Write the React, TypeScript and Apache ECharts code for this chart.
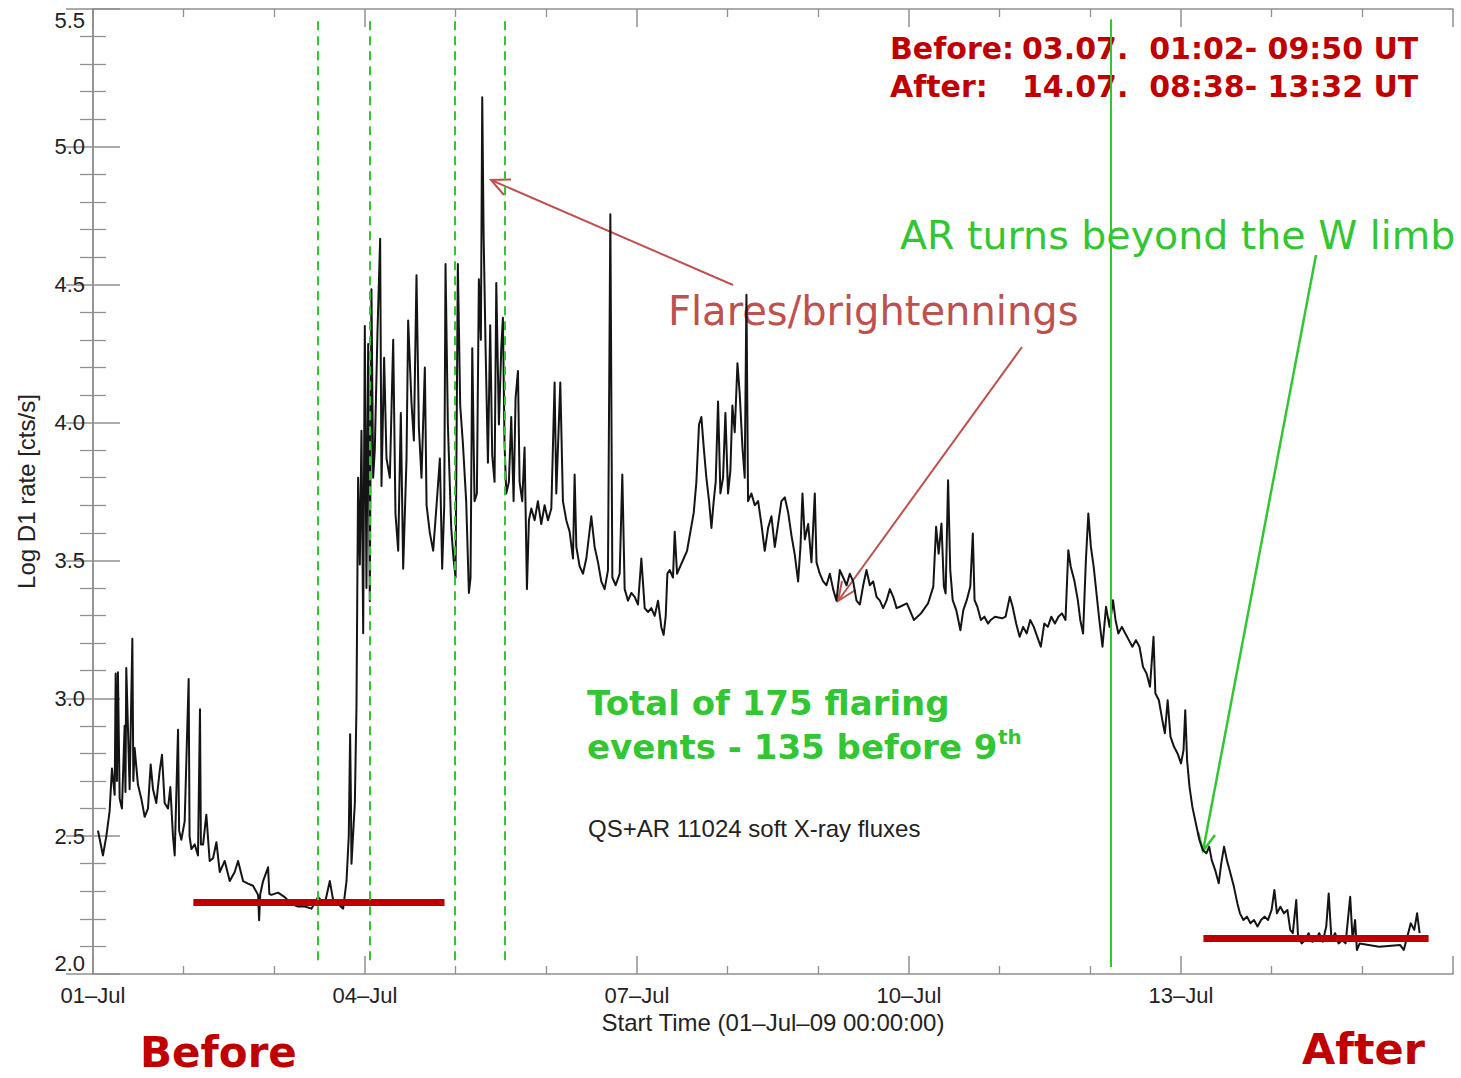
import React, { useEffect, useRef } from "react";
import * as echarts from "echarts";

// Time axis runs in days since 01-Jul-09 00:00 UT; values are log10 of the D1 count rate.
const xTickLabels = ["01–Jul", "04–Jul", "07–Jul", "10–Jul", "13–Jul"];

// Light curve, 01–04 July: quiet decay, then the onset of AR 11024 activity.
const fluxJul01to04: [number, number][] = [
  [0.055, 2.52], [0.11, 2.43], [0.147, 2.5], [0.183, 2.59], [0.209, 2.745], [0.239, 2.65],
  [0.25, 3.09], [0.264, 2.7], [0.275, 3.094], [0.294, 2.636], [0.319, 2.6], [0.349, 2.9],
  [0.358, 2.66], [0.367, 3.11], [0.404, 2.67], [0.434, 3.216], [0.445, 2.7], [0.459, 2.82],
  [0.496, 2.686], [0.533, 2.636], [0.57, 2.57], [0.606, 2.6], [0.636, 2.76], [0.662, 2.67],
  [0.698, 2.62], [0.735, 2.736], [0.761, 2.795], [0.79, 2.62], [0.827, 2.6], [0.853, 2.678],
  [0.882, 2.5], [0.901, 2.43], [0.938, 2.886], [0.95, 2.52], [0.974, 2.487], [1.011, 2.553],
  [1.055, 3.07], [1.065, 2.5], [1.085, 2.453], [1.122, 2.47], [1.158, 2.43], [1.18, 2.96],
  [1.19, 2.47], [1.214, 2.47], [1.25, 2.578], [1.287, 2.41], [1.324, 2.42], [1.361, 2.478],
  [1.398, 2.37], [1.453, 2.41], [1.508, 2.337], [1.563, 2.37], [1.6, 2.41], [1.655, 2.337],
  [1.71, 2.328], [1.765, 2.32], [1.821, 2.287], [1.832, 2.195], [1.845, 2.29], [1.876, 2.337],
  [1.931, 2.387], [1.945, 2.29], [1.968, 2.287], [2.041, 2.295], [2.115, 2.279], [2.189, 2.254],
  [2.262, 2.245], [2.336, 2.245], [2.409, 2.237], [2.483, 2.279], [2.556, 2.254], [2.612, 2.337],
  [2.648, 2.27], [2.704, 2.254], [2.759, 2.237], [2.796, 2.337], [2.821, 2.5], [2.836, 2.87],
  [2.845, 2.62], [2.851, 2.4], [2.888, 2.62], [2.906, 2.97], [2.924, 3.8], [2.943, 3.485],
  [2.961, 3.97], [2.98, 3.236], [2.998, 4.35], [3.016, 3.4], [3.035, 4.285], [3.053, 3.352],
  [3.071, 4.484], [3.09, 3.8], [3.108, 3.9], [3.138, 4.334], [3.167, 4.667], [3.182, 3.77],
  [3.211, 4.235], [3.237, 3.87], [3.274, 3.8], [3.311, 4.3], [3.336, 3.67], [3.366, 3.535],
  [3.395, 4.035], [3.421, 3.47], [3.458, 3.87], [3.476, 4.37], [3.513, 4.07], [3.539, 3.935],
  [3.568, 4.534], [3.594, 3.985], [3.623, 3.8], [3.66, 4.2], [3.679, 3.7], [3.715, 3.6],
  [3.752, 3.535], [3.789, 3.7], [3.826, 3.87], [3.851, 3.47], [3.874, 3.7],
];

// Light curve, 04–09 July: the flaring period and the slow decline.
const fluxJul04to09: [number, number][] = [
  [3.888, 4.575], [3.914, 3.993], [3.951, 3.618], [3.976, 3.507], [3.999, 3.438], [4.024, 4.575],
  [4.05, 4.062], [4.08, 3.923], [4.116, 3.715], [4.146, 3.382], [4.164, 3.438], [4.183, 4.27],
  [4.208, 3.715], [4.234, 3.743], [4.256, 4.52], [4.278, 4.3], [4.293, 5.18], [4.308, 4.687],
  [4.33, 4.27], [4.356, 3.854], [4.381, 4.353], [4.403, 3.882], [4.429, 3.785], [4.448, 4.506],
  [4.477, 3.993], [4.503, 4.27], [4.521, 4.38], [4.539, 3.923], [4.558, 3.743], [4.587, 3.785],
  [4.613, 4.02], [4.639, 3.715], [4.661, 4.09], [4.687, 4.187], [4.705, 3.785], [4.734, 3.715],
  [4.76, 3.91], [4.786, 3.396], [4.808, 3.646], [4.834, 3.688], [4.871, 3.646], [4.907, 3.715],
  [4.944, 3.632], [4.981, 3.7], [5.018, 3.646], [5.055, 3.688], [5.091, 4.145], [5.11, 3.743],
  [5.154, 4.145], [5.183, 3.715], [5.22, 3.646], [5.257, 3.604], [5.294, 3.507], [5.312, 3.812],
  [5.331, 3.549], [5.367, 3.479], [5.404, 3.452], [5.441, 3.507], [5.496, 3.66], [5.533, 3.549],
  [5.57, 3.493], [5.606, 3.424], [5.643, 3.396], [5.68, 3.465], [5.706, 4.756], [5.728, 3.438],
  [5.765, 3.41], [5.809, 3.452], [5.838, 3.812], [5.864, 3.396], [5.901, 3.354], [5.938, 3.382],
  [5.974, 3.368], [6.011, 3.34], [6.048, 3.507], [6.085, 3.327], [6.122, 3.313], [6.158, 3.327],
  [6.195, 3.299], [6.232, 3.354], [6.269, 3.257], [6.294, 3.23], [6.317, 3.299], [6.335, 3.452],
  [6.361, 3.465], [6.397, 3.438], [6.416, 3.604], [6.442, 3.452], [6.478, 3.479], [6.515, 3.507],
  [6.552, 3.535], [6.589, 3.604], [6.626, 3.674], [6.655, 3.785], [6.684, 3.993], [6.71, 4.02],
  [6.736, 3.91], [6.765, 3.8], [6.795, 3.715], [6.821, 3.618], [6.846, 3.715], [6.868, 3.785],
  [6.894, 4.076], [6.92, 3.743], [6.949, 3.8], [6.975, 4.035], [7.004, 3.743], [7.03, 3.826],
  [7.052, 4.062], [7.078, 3.965], [7.108, 4.215], [7.133, 4.104], [7.163, 3.91], [7.188, 3.8],
  [7.207, 4.464], [7.225, 3.715], [7.262, 3.743], [7.299, 3.7], [7.336, 3.715], [7.372, 3.632],
  [7.409, 3.535], [7.446, 3.618], [7.483, 3.66], [7.52, 3.549], [7.556, 3.632], [7.593, 3.715],
  [7.63, 3.729], [7.667, 3.674], [7.704, 3.59], [7.74, 3.521], [7.777, 3.424], [7.803, 3.549],
  [7.825, 3.743], [7.851, 3.576], [7.888, 3.632], [7.924, 3.493], [7.961, 3.743], [7.98, 3.493],
  [8.016, 3.452], [8.053, 3.424], [8.09, 3.41], [8.127, 3.452], [8.163, 3.396], [8.2, 3.354],
  [8.237, 3.465], [8.274, 3.438], [8.311, 3.41], [8.347, 3.452], [8.384, 3.424], [8.421, 3.354],
  [8.458, 3.34], [8.495, 3.41], [8.531, 3.465], [8.568, 3.41], [8.605, 3.424], [8.642, 3.368],
  [8.679, 3.354], [8.715, 3.327], [8.752, 3.354], [8.789, 3.396], [8.826, 3.368], [8.863, 3.327],
];

// Light curve, 09–15 July: plateau, then the drop as the region rotates off the disc.
const fluxJul09to15: [number, number][] = [
  [8.899, 3.332], [8.977, 3.344], [9.054, 3.284], [9.132, 3.308], [9.21, 3.344], [9.268, 3.405],
  [9.299, 3.622], [9.327, 3.525], [9.358, 3.634], [9.385, 3.405], [9.404, 3.38], [9.431, 3.791],
  [9.455, 3.465], [9.482, 3.356], [9.521, 3.32], [9.567, 3.247], [9.599, 3.32], [9.637, 3.356],
  [9.676, 3.405], [9.704, 3.598], [9.723, 3.356], [9.754, 3.332], [9.793, 3.284], [9.832, 3.296],
  [9.871, 3.271], [9.902, 3.284], [9.948, 3.296], [10.026, 3.29], [10.065, 3.296], [10.112, 3.368],
  [10.143, 3.332], [10.182, 3.271], [10.22, 3.223], [10.259, 3.259], [10.298, 3.235], [10.337, 3.284],
  [10.376, 3.259], [10.415, 3.223], [10.454, 3.187], [10.492, 3.271], [10.531, 3.259], [10.57, 3.296],
  [10.609, 3.271], [10.648, 3.296], [10.687, 3.308], [10.726, 3.284], [10.757, 3.537], [10.784, 3.477],
  [10.823, 3.428], [10.862, 3.356], [10.889, 3.284], [10.92, 3.235], [10.951, 3.501], [10.978, 3.67],
  [11.006, 3.55], [11.037, 3.477], [11.068, 3.38], [11.099, 3.284], [11.134, 3.187], [11.173, 3.332],
  [11.212, 3.259], [11.25, 3.356], [11.278, 3.284], [11.309, 3.235], [11.348, 3.259], [11.386, 3.235],
  [11.425, 3.211], [11.464, 3.187], [11.503, 3.211], [11.542, 3.187], [11.581, 3.114], [11.62, 3.09],
  [11.658, 3.042], [11.697, 3.223], [11.717, 3.018], [11.756, 2.993], [11.794, 2.921], [11.822, 2.873],
  [11.853, 2.993], [11.884, 2.861], [11.923, 2.824], [11.962, 2.8], [12.0, 2.764], [12.028, 2.812],
  [12.047, 2.957], [12.067, 2.776], [12.094, 2.679], [12.125, 2.607], [12.164, 2.546], [12.203, 2.486],
  [12.241, 2.45], [12.28, 2.438], [12.311, 2.462], [12.339, 2.413], [12.377, 2.377], [12.416, 2.329],
  [12.444, 2.401], [12.475, 2.462], [12.506, 2.413], [12.545, 2.365], [12.583, 2.317], [12.622, 2.256],
  [12.65, 2.22], [12.688, 2.196], [12.727, 2.208], [12.766, 2.184], [12.805, 2.196], [12.844, 2.172],
  [12.883, 2.196], [12.922, 2.208], [12.96, 2.196], [12.999, 2.232], [13.03, 2.305], [13.058, 2.22],
  [13.096, 2.244], [13.135, 2.22], [13.174, 2.232], [13.205, 2.16], [13.233, 2.148], [13.271, 2.268],
  [13.291, 2.135], [13.33, 2.111], [13.369, 2.123], [13.407, 2.148], [13.446, 2.117], [13.485, 2.123],
  [13.524, 2.148], [13.563, 2.117], [13.602, 2.172], [13.629, 2.292], [13.66, 2.123], [13.699, 2.148],
  [13.738, 2.111], [13.777, 2.123], [13.815, 2.111], [13.866, 2.28], [13.893, 2.123], [13.92, 2.196],
  [13.94, 2.087], [13.971, 2.111], [14.185, 2.099], [14.418, 2.105], [14.457, 2.087], [14.496, 2.135],
  [14.534, 2.184], [14.573, 2.16], [14.604, 2.22], [14.632, 2.148],
];

// Boundaries of the selected flare intervals (days).
const flareIntervalBounds = [2.479, 3.057, 3.991, 4.54];
// Time at which the active region passes the west limb (days).
const limbCrossing = 11.225;
// Quiet-Sun reference levels: [start day, end day, log rate].
const quietLevels: [number, number, number][] = [
  [1.107, 3.877, 2.262],
  [12.247, 14.731, 2.129],
];

const axisGray = "#8f8f8f";
const inkColor = "#222222";
const sansFont = "'Liberation Sans', Arial, sans-serif";
const noteFont = "'DejaVu Sans', sans-serif";
const noteGreen = "#33c633";
const noteRed = "#c00000";
const arrowRed = "#c0504d";

function App() {
  const ref = useRef<HTMLDivElement>(null);

  useEffect(() => {
    document.body.style.margin = "0";
    if (!ref.current) return;
    const chart = echarts.init(ref.current, null, { renderer: "svg" });

    const trace = [...fluxJul01to04, ...fluxJul04to09, ...fluxJul09to15];

    const commonX = {
      type: "value",
      min: 0,
      max: 15,
      interval: 3,
      axisLine: { show: true, lineStyle: { color: axisGray, width: 1.5 } },
      axisTick: { show: true, inside: true, length: 18, lineStyle: { color: axisGray, width: 1.5 } },
      minorTick: { show: true, splitNumber: 3, length: 8, lineStyle: { color: axisGray, width: 1.3 } },
      splitLine: { show: false },
    };
    const commonY = {
      type: "value",
      min: 2,
      max: 5.5,
      interval: 0.5,
      axisLine: { show: true, lineStyle: { color: axisGray, width: 1.5 } },
      axisTick: { show: true, inside: true, length: 27, lineStyle: { color: axisGray, width: 1.5 } },
      minorTick: { show: true, splitNumber: 5, length: 13, lineStyle: { color: axisGray, width: 1.3 } },
      splitLine: { show: false },
    };

    const segment = (x1: number, y1: number, x2: number, y2: number) => [
      { coord: [x1, y1] },
      { coord: [x2, y2] },
    ];

    const text = (
      str: string,
      x: number,
      y: number,
      size: number,
      color: string,
      weight: string = "normal",
      family: string = noteFont,
      vAlign: string = "middle"
    ) => ({
      type: "text",
      x,
      y,
      silent: true,
      style: {
        text: str,
        fill: color,
        fontSize: size,
        fontWeight: weight,
        fontFamily: family,
        align: "left",
        verticalAlign: vAlign,
      },
    });

    const stroke = (points: number[][], color: string, width: number) => ({
      type: "polyline",
      silent: true,
      shape: { points },
      style: { stroke: color, lineWidth: width, fill: null },
    });

    chart.setOption({
      animation: false,
      backgroundColor: "#ffffff",
      grid: { left: 93, right: 8, top: 9, bottom: 104 },
      xAxis: [
        {
          ...commonX,
          position: "bottom",
          name: "Start Time (01–Jul–09 00:00:00)",
          nameLocation: "middle",
          nameGap: 36,
          nameTextStyle: { fontSize: 24, fontFamily: sansFont, color: inkColor },
          axisLabel: {
            show: true,
            margin: 10,
            fontSize: 22,
            fontFamily: sansFont,
            color: inkColor,
            showMaxLabel: false,
            formatter: (v: number) => {
              const i = Math.round(v / 3);
              return Math.abs(v - 3 * i) < 1e-6 && i < xTickLabels.length ? xTickLabels[i] : "";
            },
          },
        },
        { ...commonX, position: "top", axisLabel: { show: false } },
      ],
      yAxis: [
        {
          ...commonY,
          position: "left",
          name: "Log D1 rate [cts/s]",
          nameLocation: "middle",
          nameGap: 55,
          nameTextStyle: { fontSize: 24, fontFamily: sansFont, color: inkColor },
          axisLabel: {
            show: true,
            margin: 8,
            fontSize: 22,
            fontFamily: sansFont,
            color: inkColor,
            verticalAlignMinLabel: "bottom",
            verticalAlignMaxLabel: "top",
            formatter: (v: number) => v.toFixed(1),
          },
        },
        { ...commonY, position: "right", axisLabel: { show: false } },
      ],
      series: [
        {
          name: "D1 rate",
          type: "line",
          xAxisIndex: 0,
          yAxisIndex: 0,
          data: trace,
          showSymbol: false,
          symbol: "none",
          lineStyle: { color: "#141414", width: 2, join: "round" },
          silent: true,
        },
        {
          name: "quiet levels",
          type: "line",
          data: [],
          markLine: {
            silent: true,
            symbol: ["none", "none"],
            label: { show: false },
            lineStyle: { color: noteRed, width: 7, type: "solid" },
            data: quietLevels.map(([a, b, v]) => segment(a, v, b, v)),
          },
        },
        {
          name: "flare intervals",
          type: "line",
          data: [],
          markLine: {
            silent: true,
            symbol: ["none", "none"],
            label: { show: false },
            lineStyle: { color: noteGreen, width: 2, type: [9, 6] },
            data: flareIntervalBounds.map((t) => segment(t, 2.05, t, 5.463)),
          },
        },
        {
          name: "limb crossing",
          type: "line",
          data: [],
          markLine: {
            silent: true,
            symbol: ["none", "none"],
            label: { show: false },
            lineStyle: { color: noteGreen, width: 2, type: "solid" },
            data: [segment(limbCrossing, 2.025, limbCrossing, 5.463)],
          },
        },
      ],
      graphic: [
        text("Before:", 890, 48, 30, noteRed, "bold"),
        text("03.07.  01:02- 09:50 UT", 1022, 48, 30, noteRed, "bold"),
        text("After:", 890, 86, 30, noteRed, "bold"),
        text("14.07.  08:38- 13:32 UT", 1022, 86, 30, noteRed, "bold"),
        text("AR turns beyond the W limb", 900, 235, 39.5, noteGreen),
        text("Flares/brightennings", 668, 311, 40, arrowRed),
        text("Total of 175 flaring", 587, 703, 34, noteGreen, "bold"),
        text("events - 135 before 9", 587, 747, 34, noteGreen, "bold"),
        text("th", 998, 737, 20, noteGreen, "bold"),
        text("QS+AR 11024 soft X-ray fluxes", 588, 828, 24, inkColor, "normal", sansFont),
        text("Before", 140, 1073, 42, noteRed, "bold", noteFont, "bottom"),
        text("After", 1302, 1070, 43, noteRed, "bold", noteFont, "bottom"),
        // annotation arrows
        stroke([[733, 285], [491, 180]], arrowRed, 2),
        stroke([[511, 179.5], [491, 180], [504, 195]], arrowRed, 2),
        stroke([[1022, 347], [838, 601]], arrowRed, 2),
        stroke([[855.5, 590], [838, 601], [842, 581]], arrowRed, 2),
        stroke([[1316, 255], [1203, 851]], noteGreen, 2.5),
        stroke([[1215, 835], [1203, 851], [1198, 832]], noteGreen, 2.5),
      ],
    });

    return () => chart.dispose();
  }, []);

  return <div ref={ref} style={{ width: 1461, height: 1078, overflow: "hidden" }} />;
}

export default App;
